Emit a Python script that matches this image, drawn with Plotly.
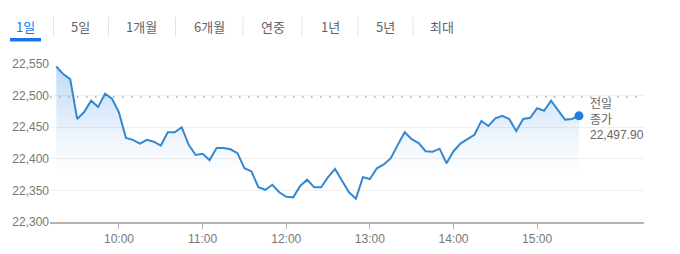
import plotly.graph_objects as go
import pandas as pd

# ---- data ----
start_time = "2024-01-01 09:15"
interval_min = 5
prices = [22546, 22534, 22526, 22463, 22474, 22492, 22482, 22503, 22495, 22473,
          22433, 22430, 22424, 22430, 22427, 22421, 22442, 22442, 22450, 22422,
          22406, 22408, 22398, 22417, 22417, 22415, 22409, 22385, 22380, 22355,
          22351, 22359, 22347, 22340, 22339, 22357, 22367, 22355, 22355, 22371,
          22384, 22365, 22347, 22337, 22371, 22368, 22385, 22391, 22401, 22422,
          22442, 22431, 22425, 22412, 22411, 22416, 22393, 22412, 22424, 22431,
          22438, 22460, 22452, 22464, 22468, 22463, 22444, 22463, 22465, 22480,
          22476, 22492, 22476, 22462, 22463, 22468]
times = pd.date_range(start_time, periods=len(prices), freq=f"{interval_min}min")
prev_close = 22497.90
prev_close_label = ["전일", "종가", "22,497.90"]
y_ticks = [22300, 22350, 22400, 22450, 22500, 22550]
y_ticktext = ["22,300", "22,350", "22,400", "22,450", "22,500", "22,550"]
x_ticks = ["2024-01-01 10:00", "2024-01-01 11:00", "2024-01-01 12:00",
           "2024-01-01 13:00", "2024-01-01 14:00", "2024-01-01 15:00"]
x_ticktext = ["10:00", "11:00", "12:00", "13:00", "14:00", "15:00"]
x_range = ["2024-01-01 09:10:30", "2024-01-01 16:16:40"]
tabs = ["1일", "5일", "1개월", "6개월", "연중", "1년", "5년", "최대"]
tab_centers = [25, 80, 141.5, 209.5, 273, 330, 385, 442]
tab_separators = [53.5, 108.5, 175.5, 243, 302, 358, 413]

W, H = 680, 254
L, R, T, B = 50, 644, 64, 222

def px(x):
    return (x - L) / (R - L)

def py(y):
    return (B - y) / (B - T)

LINE = "#3588cf"
NUM_FONT = "Liberation Sans, Arial, sans-serif"
KR_FONT = "Noto Sans CJK KR, sans-serif"

fig = go.Figure()
fig.add_trace(go.Scatter(
    x=times, y=prices, mode="lines",
    line=dict(color=LINE, width=2),
    fill="tozeroy",
    fillgradient=dict(type="vertical", start=22300, stop=22550,
                      colorscale=[[0, "rgba(40,125,225,0.0)"],
                                  [0.28, "rgba(40,125,225,0.0)"],
                                  [0.5, "rgba(40,125,225,0.06)"],
                                  [1, "rgba(40,125,225,0.30)"]]),
    hoverinfo="skip", showlegend=False,
))
fig.add_trace(go.Scatter(
    x=[times[-1]], y=[prices[-1]], mode="markers",
    marker=dict(color="#1f7ee0", size=9), hoverinfo="skip", showlegend=False,
))

shapes = []
shapes.append(dict(type="line", xref="paper", yref="y", x0=0, x1=1,
                   y0=prev_close, y1=prev_close,
                   line=dict(color="#a8a8a8", width=1.4, dash="1.5px,7.5px")))
for s in tab_separators:
    shapes.append(dict(type="line", xref="paper", yref="paper",
                       x0=px(s), x1=px(s), y0=py(17), y1=py(36),
                       line=dict(color="#e3e3e3", width=1)))
shapes.append(dict(type="rect", xref="paper", yref="paper",
                   x0=px(10), x1=px(41), y0=py(41.5), y1=py(38),
                   fillcolor="#1a73e8", line=dict(width=0)))

annotations = []
for i, (t, c) in enumerate(zip(tabs, tab_centers)):
    annotations.append(dict(text=t, xref="paper", yref="paper", x=px(c), y=py(26.5),
                            xanchor="center", yanchor="middle", showarrow=False,
                            font=dict(family=KR_FONT, size=13,
                                      color="#1a73e8" if i == 0 else "#5f6368")))
for j, (t, yy) in enumerate(zip(prev_close_label, [102, 118.5, 135])):
    annotations.append(dict(text=t, xref="paper", yref="paper", x=px(588), y=py(yy),
                            xanchor="left", yanchor="middle", showarrow=False,
                            font=dict(family=KR_FONT if j < 2 else NUM_FONT, size=12,
                                      color="#666666")))

fig.update_layout(
    width=W, height=H,
    margin=dict(l=L, r=W - R, t=T, b=H - B, pad=0, autoexpand=False),
    paper_bgcolor="white", plot_bgcolor="white",
    shapes=shapes, annotations=annotations,
    showlegend=False, hovermode=False,
    xaxis=dict(range=x_range, tickvals=x_ticks, ticktext=x_ticktext,
               automargin=False,
               showgrid=False, zeroline=False,
               showline=True, linecolor="#b5b5b5", linewidth=2,
               ticks="outside", ticklen=5, tickcolor="#b5b5b5", tickwidth=1,
               tickfont=dict(family=NUM_FONT, size=12, color="#777777")),
    yaxis=dict(range=[22300, 22550], tickvals=y_ticks, ticktext=y_ticktext,
               automargin=False,
               showgrid=True, gridcolor="#f0f0f0", gridwidth=1, zeroline=False,
               showline=False, ticks="",
               tickfont=dict(family=NUM_FONT, size=12, color="#777777")),
)

fig.write_html("out.html", config={"displayModeBar": False})
